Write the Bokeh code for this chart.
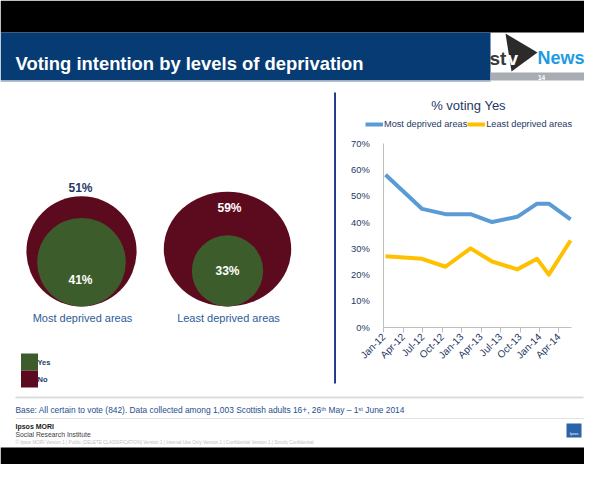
from datetime import datetime, timezone
from math import pi

from bokeh.plotting import figure
from bokeh.layouts import column, row
from bokeh.models import (Range1d, FixedTicker, Legend, LegendItem, Label, ColumnDataSource,
                          DatetimeAxis, LinearAxis)
from bokeh.core.properties import value
from bokeh.embed import file_html
from bokeh.resources import INLINE

# ---------------- data ----------------
survey_dates = ["2012-01-09", "2012-06-29", "2012-10-16", "2013-02-11", "2013-05-23",
                "2013-09-18", "2013-12-20", "2014-02-13", "2014-05-26"]
most_deprived_yes = [58, 45, 43, 43, 40, 42, 47, 47, 41]
least_deprived_yes = [27, 26, 23, 30, 25, 22, 26, 20, 33]
series_names = ["Most deprived areas", "Least deprived areas"]

tick_dates = ["2012-01-01", "2012-04-01", "2012-07-01", "2012-10-01", "2013-01-01",
              "2013-04-01", "2013-07-01", "2013-10-01", "2014-01-01", "2014-04-01"]
tick_labels = ["Jan-12", "Apr-12", "Jul-12", "Oct-12", "Jan-13",
               "Apr-13", "Jul-13", "Oct-13", "Jan-14", "Apr-14"]
axis_start, axis_end = "2012-01-01", "2014-06-01"
y_ticks = [0, 10, 20, 30, 40, 50, 60, 70]
y_tick_labels = ["0%", "10%", "20%", "30%", "40%", "50%", "60%", "70%"]

area_names = ["Most deprived areas", "Least deprived areas"]
yes_share = [41, 33]
no_share = [51, 59]
key_labels = ["Yes", "No"]

title_text = "Voting intention by levels of deprivation"
chart_title = "% voting Yes"
base_text = "Base: All certain to vote (842). Data collected among 1,003 Scottish adults 16+, 26\u1d57\u02b0 May \u2013 1\u02e2\u1d57 June 2014"
footer_small = ("\u00a9 Ipsos MORI      Version 1 | Public (DELETE  CLASSIFICATION)      Version 1 | Internal Use Only"
                "      Version 1 | Confidential      Version 1 | Strictly Confidential")

# ---------------- styles ----------------
FONT = value("Liberation Sans")
NAVY = "#073B74"
DARK_TXT = "#1F3864"
MID_BLUE = "#2C5C97"
RED = "#5C0B1E"
GREEN = "#3D5C2C"
LINE_BLUE = "#5B9BD5"
LINE_YELLOW = "#FFC000"
AXIS_GRAY = "#BFBFBF"
PAGE_W = 584
DAY_MS = 86400000.0


def ms(s):
    d = datetime.strptime(s, "%Y-%m-%d").replace(tzinfo=timezone.utc)
    return d.timestamp() * 1000.0


def canvas(w, h, x0, x1, y0, y1):
    f = figure(width=w, height=h, x_range=Range1d(x0, x1), y_range=Range1d(y1, y0),
               toolbar_location=None, output_backend="svg", min_border=0,
               x_axis_location=None, y_axis_location=None, outline_line_color=None,
               frame_align=False)
    f.grid.visible = False
    return f


# ---------------- header ----------------
hdr = canvas(PAGE_W, 82, 0, PAGE_W, 0, 82)
hdr.quad(left=[0, 0, 490, 0], right=[PAGE_W, 490, PAGE_W, 490], top=[0, 32, 72, 80], bottom=[32, 80, 80, 82],
         fill_color=["#000000", NAVY, "#A8ADB3", "#B4C0CF"], line_color=None)
hdr.text(x=[15], y=[63], text=[title_text], text_font=FONT, text_font_style="bold",
         text_font_size="18.4px", text_color="white", text_baseline="alphabetic")
hdr.patch(x=[505, 537, 511], y=[33, 52, 71], fill_color="#2B2B2B", line_color=None)
hdr.text(x=[489], y=[58], text=["st"], text_font=FONT, text_font_style="bold",
         text_font_size="19px", text_color="#3A3A3A", text_baseline="alphabetic")
hdr.text(x=[507], y=[58], text=["v"], text_font=FONT, text_font_style="bold",
         text_font_size="19px", text_color="white", text_baseline="alphabetic")
hdr.text(x=[537], y=[57], text=["News"], text_font=FONT, text_font_style="bold",
         text_font_size="18px", text_color="#1E9CE0", text_baseline="alphabetic")
hdr.text(x=[541], y=[76.5], text=["14"], text_font=FONT, text_font_style="bold",
         text_font_size="6.5px", text_color="white", text_baseline="middle", text_align="center")

# ---------------- left panel: circles ----------------
left = canvas(336, 313, 0, 336, 82, 395)
px_per_pct = 2.16
centers_x = [81, 227]
bottom_y = 306
outer_squash = [1.0, 0.9]
outer_w = [v * px_per_pct for v in no_share]
outer_h = [w * s for w, s in zip(outer_w, outer_squash)]
inner_w = [v * px_per_pct for v in yes_share]
left.ellipse(x=centers_x, y=[bottom_y - h / 2 for h in outer_h], width=outer_w, height=outer_h,
             width_units="screen", height_units="screen", fill_color=RED, line_color=None)
left.ellipse(x=centers_x, y=[bottom_y - w / 2 for w in inner_w], width=inner_w, height=inner_w,
             width_units="screen", height_units="screen", fill_color=GREEN, line_color=None)
no_label_y = [187, 207.5]
no_label_col = [DARK_TXT, "white"]
yes_label_y = [279, 270]
left.text(x=[centers_x[0] - 1, centers_x[1] + 2], y=no_label_y, text=[f"{v}%" for v in no_share],
          text_font=FONT, text_font_style="bold", text_font_size="12px", text_color=no_label_col,
          text_align="center", text_baseline="middle")
left.text(x=[centers_x[0] - 1, centers_x[1]], y=yes_label_y, text=[f"{v}%" for v in yes_share],
          text_font=FONT, text_font_style="bold", text_font_size="12px", text_color="white",
          text_align="center", text_baseline="middle")
left.text(x=[centers_x[0] + 1, centers_x[1] + 1], y=[317, 317], text=area_names, text_font=FONT,
          text_font_size="11px", text_color=MID_BLUE, text_align="center", text_baseline="middle")
# key squares
left.quad(left=[20.5, 20.5], right=[37.5, 37.5], top=[353, 370], bottom=[370, 387],
          fill_color=[GREEN, RED], line_color=None)
left.text(x=[37, 37], y=[362, 379], text=key_labels, text_font=FONT, text_font_style="bold",
          text_font_size="7.5px", text_color=DARK_TXT, text_baseline="middle")
# divider
left.segment(x0=[334.8], y0=[92], x1=[334.8], y1=[383], line_color="#1F3A8A", line_width=2.5)

# ---------------- right panel: line chart ----------------
# the frame covers the whole panel (page px 336..584 x 82..395); axes are pinned inside it
CH_W, CH_H = PAGE_W - 336, 313
px_per_day = 0.2132          # horizontal scale of the date axis
px_per_pct_y = 2.6286        # vertical scale of the value axis
origin_px = (383.3 - 336, 395 - 326.7)   # where (axis_start, 0%) sits inside the panel
x0 = ms(axis_start) - origin_px[0] / px_per_day * DAY_MS
x1 = ms(axis_start) + (CH_W - origin_px[0]) / px_per_day * DAY_MS
y0 = -origin_px[1] / px_per_pct_y
y1 = (CH_H - origin_px[1]) / px_per_pct_y

x_dates = [datetime.strptime(d, "%Y-%m-%d") for d in survey_dates]
src = ColumnDataSource(dict(x=x_dates, most=most_deprived_yes, least=least_deprived_yes))

chart = figure(width=CH_W, height=CH_H, x_range=Range1d(x0, x1), y_range=Range1d(y0, y1),
               x_axis_location=None, y_axis_location=None,
               toolbar_location=None, output_backend="svg", min_border=0,
               outline_line_color=None, frame_align=False)
chart.grid.visible = False
r1 = chart.line("x", "most", source=src, line_color=LINE_BLUE, line_width=4, line_join="round")
r2 = chart.line("x", "least", source=src, line_color=LINE_YELLOW, line_width=4, line_join="round")

xt = [ms(d) for d in tick_dates]
xaxis = DatetimeAxis(fixed_location=0, bounds=(ms(axis_start), ms(axis_end)),
                     ticker=FixedTicker(ticks=xt),
                     major_label_overrides={t: lab for t, lab in zip(xt, tick_labels)},
                     major_label_orientation=pi / 4,
                     axis_line_color=AXIS_GRAY, major_tick_line_color=AXIS_GRAY,
                     major_tick_out=5, major_tick_in=0, minor_tick_line_color=None,
                     major_label_text_font="Liberation Sans", major_label_text_font_size="10px",
                     major_label_text_color=DARK_TXT, major_label_standoff=3)
chart.add_layout(xaxis, "below")

yaxis = LinearAxis(fixed_location=ms(axis_start), bounds=(0, 70),
                   ticker=FixedTicker(ticks=y_ticks),
                   major_label_overrides={t: lab for t, lab in zip(y_ticks, y_tick_labels)},
                   axis_line_color=AXIS_GRAY, major_tick_line_color=None, minor_tick_line_color=None,
                   major_label_text_font="Liberation Sans", major_label_text_font_size="9.4px",
                   major_label_text_color=DARK_TXT, major_label_standoff=8)
chart.add_layout(yaxis, "left")

legend = Legend(items=[LegendItem(label=series_names[0], renderers=[r1]),
                       LegendItem(label=series_names[1], renderers=[r2])],
                orientation="horizontal", location=(29, 265),
                label_text_font="Liberation Sans", label_text_font_size="9.2px",
                label_text_color=DARK_TXT, glyph_width=18, glyph_height=12, label_height=12,
                label_standoff=1, spacing=0, padding=0, margin=0,
                background_fill_alpha=0, border_line_color=None)
chart.add_layout(legend, "center")
chart.add_layout(Label(x=132, y=290, x_units="screen", y_units="screen", text=chart_title,
                       text_align="center", text_baseline="middle", text_font="Liberation Sans",
                       text_font_size="13px", text_color=DARK_TXT))

# ---------------- footer ----------------
foot = canvas(PAGE_W, 69, 0, PAGE_W, 395, 464)
foot.segment(x0=[15, 15], y0=[397, 418], x1=[583, PAGE_W], y1=[397, 418],
             line_color=["#DCDCDC", "#E3E3E3"], line_width=[2, 1.2])
foot.text(x=[15], y=[409], text=[base_text], text_font=FONT, text_font_size="8.4px",
          text_color="#1F4E8C", text_baseline="middle")
foot.text(x=[15], y=[426], text=["Ipsos MORI"], text_font=FONT, text_font_style="bold",
          text_font_size="7px", text_color="#1A1A1A", text_baseline="middle")
foot.text(x=[15], y=[434], text=["Social Research Institute"], text_font=FONT,
          text_font_size="6.8px", text_color="#404040", text_baseline="middle")
foot.text(x=[15], y=[442], text=[footer_small], text_font=FONT,
          text_font_size="4.6px", text_color="#C0C0C0", text_baseline="middle")
foot.quad(left=[566], right=[581], top=[423], bottom=[437], fill_color="#2A64A8", line_color=None)
foot.text(x=[573.5], y=[433.5], text=["Ipsos"], text_font=FONT, text_font_size="3.5px",
          text_color="white", text_align="center", text_baseline="middle")
foot.quad(left=[0], right=[PAGE_W], top=[447], bottom=[464], fill_color="#000000", line_color=None)

layout = column(hdr, row(left, chart, spacing=0), foot, spacing=0)
open("out.html", "w").write(file_html(layout, INLINE))
